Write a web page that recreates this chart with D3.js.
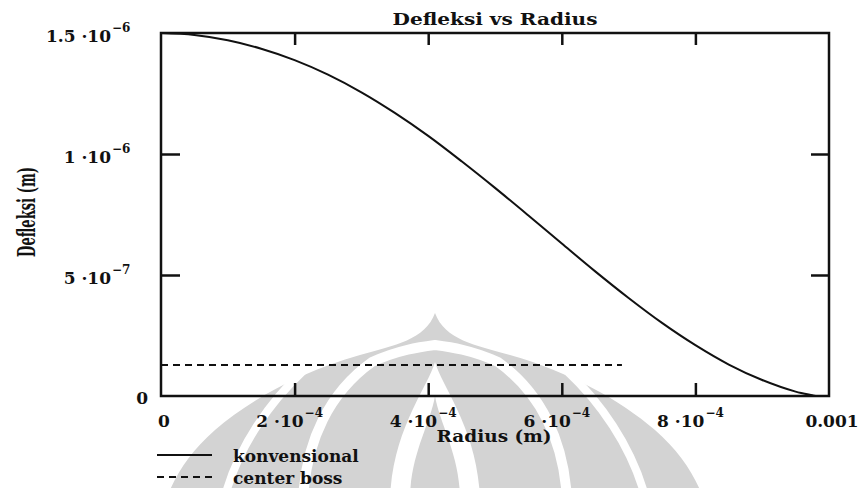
<!DOCTYPE html>
<html>
<head>
<meta charset="utf-8">
<script src="https://cdn.jsdelivr.net/npm/d3@7"></script>
<style>
  html, body { margin: 0; padding: 0; background: #fff; }
  svg { display: block; }
  text { font-family: "DejaVu Serif", "Liberation Serif", serif; fill: #111; }
</style>
</head>
<body>
<svg id="chart" width="861" height="488"></svg>
<script>
// Radius samples (m) and plate deflection (m) for the conventional diaphragm
const radius = [0, 0.5e-4, 1.0e-4, 1.5e-4, 2.0e-4, 2.5e-4, 3.0e-4, 3.5e-4, 4.0e-4, 4.5e-4,
                5.0e-4, 5.5e-4, 6.0e-4, 6.5e-4, 7.0e-4, 7.5e-4, 8.0e-4, 8.5e-4, 9.0e-4, 9.5e-4, 9.75e-4, 9.8e-4];
const konvensional = [15.0e-7, 14.92e-7, 14.7e-7, 14.35e-7, 13.88e-7, 13.28e-7, 12.55e-7, 11.7e-7, 10.75e-7, 9.7e-7,
                      8.6e-7, 7.46e-7, 6.3e-7, 5.15e-7, 4.05e-7, 3.02e-7, 2.1e-7, 1.3e-7, 0.66e-7, 0.18e-7, 0.03e-7, 0];

// Center-boss diaphragm: flat deflection over the boss radius
const bossRadius = [0, 6.9e-4];
const centerBoss = [1.28e-7, 1.28e-7];

// Axis ticks and their labels (mantissa · 10^exponent)
const xTickValues = [0, 2e-4, 4e-4, 6e-4, 8e-4, 0.001];
const xTickMantissa = ["0", "2", "4", "6", "8", "0.001"];
const xTickExponent = ["", "−4", "−4", "−4", "−4", ""];
const yTickValues = [0, 5e-7, 1e-6, 1.5e-6];
const yTickMantissa = ["0", "5", "1", "1.5"];
const yTickExponent = ["", "−7", "−6", "−6"];

const legendLabels = ["konvensional", "center boss"];

const svg = d3.select("#chart");
const L = 161, R = 829, T = 33, B = 396;
const x = d3.scaleLinear().domain([0, 0.001]).range([L, R]);
const y = d3.scaleLinear().domain([0, 1.5e-6]).range([B, T]);

// ---- watermark emblem (light gray, behind the plot) ----
const wm = svg.append("g");
const gray = "#d3d3d3";
const mirror = d => d.replace(/(-?\d+(?:\.\d+)?),(-?\d+(?:\.\d+)?)/g, (m, a, b) => `${870 - a},${b}`);
// outer onion silhouette
wm.append("path").attr("fill", gray)
  .attr("d", "M435,313 C425,340 395,345 360,355 C300,372 250,400 215,430 C190,452 175,475 166,500 " +
             "L704,500 C695,475 680,452 655,430 C620,400 570,372 510,355 C475,345 445,340 435,313 Z");
// white stripes splitting off the outer lobes
const stripe1 = "M303,371 C272,400 238,445 224,500";
wm.append("path").attr("fill", "none").attr("stroke", "#fff").attr("stroke-width", 8).attr("d", stripe1);
wm.append("path").attr("fill", "none").attr("stroke", "#fff").attr("stroke-width", 8).attr("d", mirror(stripe1));
// inner arch
wm.append("path").attr("fill", "none").attr("stroke", "#fff").attr("stroke-width", 10)
  .attr("d", "M303,500 C306,440 330,392 372,362 C398,350 420,347 435,345 C450,347 472,350 498,362 C540,392 564,440 567,500");
// central teardrop with its inner petal
wm.append("path").attr("fill", "#fff")
  .attr("d", "M435,362 C428,387 392,430 390,500 L480,500 C478,430 442,387 435,362 Z");
wm.append("path").attr("fill", gray)
  .attr("d", "M435,396 C430,425 410,455 410,500 L460,500 C460,455 440,425 435,396 Z");

// ---- tick marks (inside the frame) ----
const xInner = xTickValues.slice(1, -1);
const yInner = yTickValues.slice(1, -1);
function styleAxis(g) {
  g.select(".domain").remove();
  g.selectAll(".tick line").attr("stroke", "#111").attr("stroke-width", 2.5);
  g.selectAll(".tick text").remove();
}
svg.append("g").attr("transform", `translate(0,${B})`)
  .call(d3.axisBottom(x).tickValues(xInner).tickSize(-13)).call(styleAxis);
svg.append("g").attr("transform", `translate(0,${T})`)
  .call(d3.axisTop(x).tickValues(xInner).tickSize(-12)).call(styleAxis);
svg.append("g").attr("transform", `translate(${L},0)`)
  .call(d3.axisLeft(y).tickValues(yInner).tickSize(-19)).call(styleAxis);
svg.append("g").attr("transform", `translate(${R},0)`)
  .call(d3.axisRight(y).tickValues(yInner).tickSize(-18)).call(styleAxis);

// frame
svg.append("rect").attr("x", L).attr("y", T).attr("width", R - L).attr("height", B - T)
  .attr("fill", "none").attr("stroke", "#111").attr("stroke-width", 2.5);

// ---- series ----
const line = d3.line().x(d => x(d[0])).y(d => y(d[1])).curve(d3.curveCatmullRom.alpha(0.5));
svg.append("path").datum(radius.map((r, i) => [r, konvensional[i]]))
  .attr("fill", "none").attr("stroke", "#111").attr("stroke-width", 2).attr("d", line);
svg.append("path").datum(bossRadius.map((r, i) => [r, centerBoss[i]]))
  .attr("fill", "none").attr("stroke", "#111").attr("stroke-width", 2)
  .attr("stroke-dasharray", "7,5").attr("d", line);

// ---- tick labels ----
const fs = 17, sup = 12;
xTickValues.forEach((v, i) => {
  const px = x(v), base = 427;
  if (xTickExponent[i]) {
    svg.append("text").attr("x", px + 9).attr("y", base).attr("text-anchor", "end")
      .attr("font-size", fs).attr("font-weight", "bold").text(xTickMantissa[i] + " ·10");
    svg.append("text").attr("x", px + 10).attr("y", base - 10)
      .attr("font-size", sup).attr("font-weight", "bold").text(xTickExponent[i]);
  } else {
    svg.append("text").attr("x", px + 3).attr("y", base).attr("text-anchor", "middle")
      .attr("font-size", fs).attr("font-weight", "bold").text(xTickMantissa[i]);
  }
});
yTickValues.forEach((v, i) => {
  const py = y(v) + 9;
  if (yTickExponent[i]) {
    svg.append("text").attr("x", 111).attr("y", py).attr("text-anchor", "end")
      .attr("font-size", fs).attr("font-weight", "bold").text(yTickMantissa[i] + " ·10");
    svg.append("text").attr("x", 112).attr("y", py - 10)
      .attr("font-size", sup).attr("font-weight", "bold").text(yTickExponent[i]);
  } else {
    svg.append("text").attr("x", 148).attr("y", py - 1).attr("text-anchor", "end")
      .attr("font-size", fs).attr("font-weight", "bold").text(yTickMantissa[i]);
  }
});

// ---- titles ----
svg.append("text").attr("x", 495).attr("y", 25).attr("text-anchor", "middle")
  .attr("font-size", 17).attr("font-weight", "bold")
  .attr("textLength", 205).attr("lengthAdjust", "spacingAndGlyphs")
  .text("Defleksi vs Radius");
svg.append("text").attr("x", 494).attr("y", 442).attr("text-anchor", "middle")
  .attr("font-size", 16).attr("font-weight", "bold")
  .attr("textLength", 115).attr("lengthAdjust", "spacingAndGlyphs")
  .text("Radius (m)");
svg.append("text").attr("transform", "translate(35,212) rotate(-90)").attr("text-anchor", "middle")
  .attr("font-size", 24).attr("font-weight", "bold")
  .attr("textLength", 90).attr("lengthAdjust", "spacingAndGlyphs")
  .text("Defleksi (m)");

// ---- legend ----
const legend = svg.append("g");
[["none", 455, 462], ["7,5", 477, 484]].forEach((s, i) => {
  legend.append("line").attr("x1", 157).attr("x2", 212).attr("y1", s[1]).attr("y2", s[1])
    .attr("stroke", "#111").attr("stroke-width", 2).attr("stroke-dasharray", s[0]);
  legend.append("text").attr("x", 233).attr("y", s[2])
    .attr("font-size", 17).attr("font-weight", "bold").text(legendLabels[i]);
});
</script>
</body>
</html>
